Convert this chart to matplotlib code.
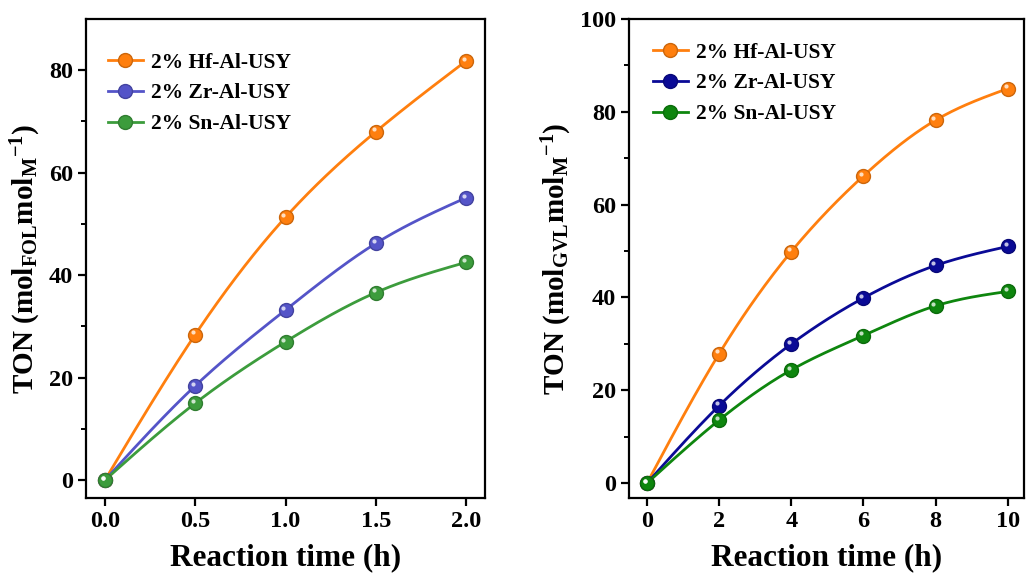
import numpy as np
import matplotlib
matplotlib.use("Agg")
import matplotlib.pyplot as plt
from matplotlib import transforms

# ---- data ----
time_a = [0.0, 0.5, 1.0, 1.5, 2.0]
hf_a = [0.0, 28.4, 51.3, 68.0, 81.8]
zr_a = [0.0, 18.4, 33.2, 46.2, 55.1]
sn_a = [0.0, 15.0, 27.0, 36.6, 42.5]

time_b = [0, 2, 4, 6, 8, 10]
hf_b = [0.0, 27.9, 49.9, 66.2, 78.2, 85.0]
zr_b = [0.0, 16.7, 30.0, 39.9, 46.9, 51.0]
sn_b = [0.0, 13.6, 24.4, 31.8, 38.2, 41.3]

labels = ["2% Hf-Al-USY", "2% Zr-Al-USY", "2% Sn-Al-USY"]
colors_a = ["#ff7f0e", "#5454c8", "#3c9c3c"]
colors_b = ["#ff7f0e", "#0a0a96", "#0e860e"]

plt.rcParams["font.family"] = "Liberation Serif"
plt.rcParams["font.weight"] = "bold"
plt.rcParams["mathtext.fontset"] = "custom"
plt.rcParams["mathtext.rm"] = "Liberation Serif:bold"
plt.rcParams["mathtext.bf"] = "Liberation Serif:bold"
plt.rcParams["mathtext.it"] = "Liberation Serif:bold"


def spline(x, y, n=200):
    # natural cubic spline, only used to draw the smooth connecting line
    x = np.asarray(x, float)
    y = np.asarray(y, float)
    k = len(x)
    h = np.diff(x)
    A = np.zeros((k, k))
    r = np.zeros(k)
    A[0, 0] = A[-1, -1] = 1
    for i in range(1, k - 1):
        A[i, i - 1] = h[i - 1]
        A[i, i] = 2 * (h[i - 1] + h[i])
        A[i, i + 1] = h[i]
        r[i] = 6 * ((y[i + 1] - y[i]) / h[i] - (y[i] - y[i - 1]) / h[i - 1])
    m = np.linalg.solve(A, r)
    xs = np.linspace(x[0], x[-1], n)
    idx = np.clip(np.searchsorted(x, xs) - 1, 0, k - 2)
    x0, x1 = x[idx], x[idx + 1]
    hh = x1 - x0
    ys = (m[idx] * (x1 - xs) ** 3 / (6 * hh) + m[idx + 1] * (xs - x0) ** 3 / (6 * hh)
          + (y[idx] / hh - m[idx] * hh / 6) * (x1 - xs)
          + (y[idx + 1] / hh - m[idx + 1] * hh / 6) * (xs - x0))
    return xs, ys


def shade(c, f):
    rgb = np.array(matplotlib.colors.to_rgb(c))
    return tuple(rgb * f)


def draw(ax, t, series, colors, leg_anchor):
    hl = transforms.offset_copy(ax.transData, fig=fig, x=-1.6, y=1.6, units="points")
    for vals, col, lab in zip(series, colors, labels):
        xs, ys = spline(t, vals)
        ax.plot(xs, ys, color=col, lw=2, zorder=2)
        ax.plot(t, vals, "o", color=col, mec=shade(col, 0.8), ms=10, mew=1, zorder=3)
        ax.plot(t, vals, "o", color="white", alpha=0.75, ms=3, mew=0, zorder=4, transform=hl)
        # legend proxy
        ax.plot([], [], "-o", color=col, mec=shade(col, 0.8), ms=10, lw=2, label=lab)
    for s in ax.spines.values():
        s.set_linewidth(1.6)
    ax.tick_params(axis="both", which="major", direction="out", length=6, width=1.6,
                   labelsize=17.5)
    ax.tick_params(axis="y", which="minor", direction="out", length=3.5, width=1.4)
    ax.tick_params(axis="x", which="minor", bottom=False)
    ax.set_xlabel("Reaction time (h)", fontsize=22.5, fontweight="bold", labelpad=8)
    ax.legend(loc="upper left", bbox_to_anchor=leg_anchor, frameon=False, fontsize=15.5,
              handlelength=1.65, handletextpad=0.35, labelspacing=0.5, borderaxespad=0.6)


fig = plt.figure(figsize=(10.26, 5.74), dpi=100)

ax1 = fig.add_axes([86 / 1026, 76 / 574, 399 / 1026, 479 / 574])
draw(ax1, time_a, [hf_a, zr_a, sn_a], colors_a, (0.0, 0.975))
ax1.set_xlim(-0.105, 2.105)
ax1.set_ylim(-3.5, 90)
ax1.set_xticks([0.0, 0.5, 1.0, 1.5, 2.0])
ax1.set_xticklabels(["0.0", "0.5", "1.0", "1.5", "2.0"])
ax1.set_yticks([0, 20, 40, 60, 80])
ax1.set_yticks([10, 30, 50, 70], minor=True)
ax1.set_ylabel(r"TON (mol$_{\mathrm{FOL}}$mol$_{\mathrm{M}}$$^{\mathrm{-1}}$)",
               fontsize=21, fontweight="bold", labelpad=4)

ax2 = fig.add_axes([629 / 1026, 76 / 574, 395 / 1026, 479 / 574])
draw(ax2, time_b, [hf_b, zr_b, sn_b], colors_b, (0.005, 0.996))
ax2.set_xlim(-0.5, 10.45)
ax2.set_ylim(-3.2, 100)
ax2.set_xticks([0, 2, 4, 6, 8, 10])
ax2.set_yticks([0, 20, 40, 60, 80, 100])
ax2.set_yticks([10, 30, 50, 70, 90], minor=True)
ax2.set_ylabel(r"TON (mol$_{\mathrm{GVL}}$mol$_{\mathrm{M}}$$^{\mathrm{-1}}$)",
               fontsize=21, fontweight="bold", labelpad=4)

fig.savefig("out.png", dpi=100)
